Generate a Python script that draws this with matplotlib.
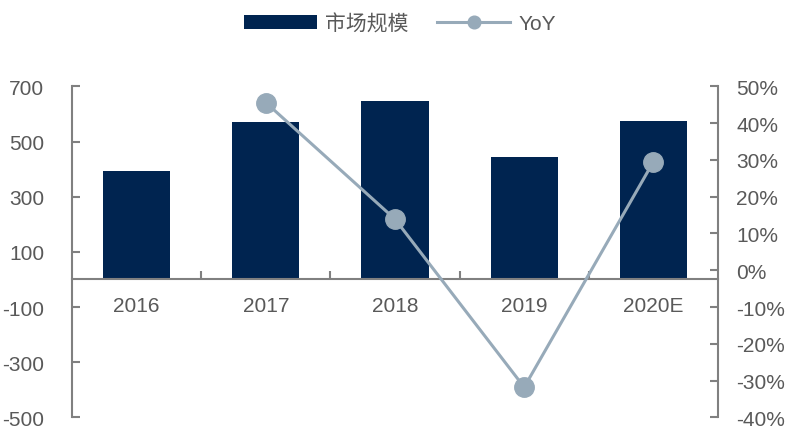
import numpy as np
import matplotlib
matplotlib.use('Agg')
import matplotlib.pyplot as plt
from matplotlib.ticker import FixedLocator, NullFormatter

plt.rcParams['font.family'] = ['Liberation Sans', 'Noto Sans CJK SC', 'DejaVu Sans']
plt.rcParams['axes.unicode_minus'] = False

years = ['2016', '2017', '2018', '2019', '2020E']
market = [392, 570, 648, 443, 573]
yoy_years = ['2017', '2018', '2019', '2020E']
yoy = [45.6, 13.9, -31.8, 29.5]

bar_color = '#002450'
line_color = '#97AAB9'
axis_color = '#808080'
text_color = '#595959'
fs = 15

fig = plt.figure(figsize=(8, 4.39), dpi=100)
ax = fig.add_axes([0.09, 0.047, 0.8075, 0.754])
x = np.arange(len(years))
ax.bar(x, market, width=0.52, color=bar_color, label='市场规模', zorder=2)
ax.set_ylim(-500, 700)
ax.set_yticks([-500, -300, -100, 100, 300, 500, 700])
ax.set_xlim(-0.5, len(years) - 0.5)

ax.spines['top'].set_visible(False)
ax.spines['right'].set_visible(False)
ax.spines['bottom'].set_position(('data', 0))
for s in ['left', 'bottom']:
    ax.spines[s].set_color(axis_color)
    ax.spines[s].set_linewidth(1.5)

ax.xaxis.set_major_locator(FixedLocator(np.arange(0.5, len(years) - 0.5, 1)))
ax.xaxis.set_major_formatter(NullFormatter())
ax.xaxis.set_minor_locator(FixedLocator(x))
ax.set_xticklabels(years, minor=True)
ax.tick_params(axis='x', which='major', direction='in', length=6, color=axis_color, width=1.5)
ax.tick_params(axis='x', which='minor', length=0, pad=12, labelsize=fs, labelcolor=text_color)
ax.tick_params(axis='y', direction='in', length=6, color=axis_color, width=1.5,
               labelsize=fs, labelcolor=text_color, pad=20)

ax2 = ax.twinx()
yx = [years.index(y) for y in yoy_years]
ax2.plot(yx, yoy, color=line_color, lw=2.2, marker='o', markersize=14, label='YoY', zorder=3)
ax2.set_ylim(-40, 50)
ax2.set_yticks(np.arange(-40, 51, 10))
ax2.set_yticklabels([f'{v}%' for v in range(-40, 51, 10)])
for s in ['top', 'left', 'bottom']:
    ax2.spines[s].set_visible(False)
ax2.spines['right'].set_color(axis_color)
ax2.spines['right'].set_linewidth(1.5)
ax2.tick_params(axis='y', direction='in', length=6, color=axis_color, width=1.5,
                labelsize=fs, labelcolor=text_color, pad=13)

h1, l1 = ax.get_legend_handles_labels()
h2, l2 = ax2.get_legend_handles_labels()
fig.legend(h1 + h2, l1 + l2, loc='center', bbox_to_anchor=(0.5, 0.945), ncol=2,
           frameon=False, fontsize=fs, labelcolor=text_color, handlelength=3.5,
           columnspacing=1.35, handletextpad=0.4, markerscale=0.65)

fig.savefig('out.png', dpi=100)
